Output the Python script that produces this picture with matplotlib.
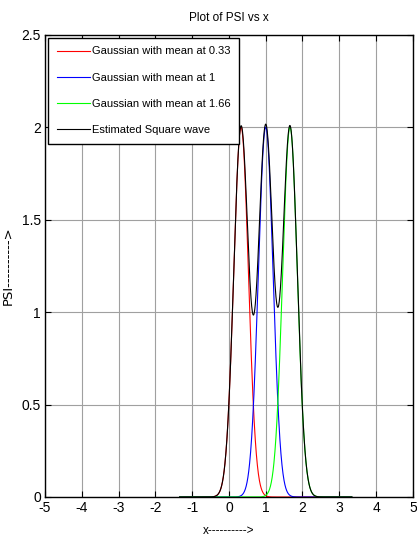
import numpy as np
import matplotlib
matplotlib.use("Agg")
import matplotlib.pyplot as plt
from matplotlib.font_manager import fontManager

plt.rcParams['axes.unicode_minus'] = False
names = {f.name for f in fontManager.ttflist}
narrow = 'Liberation Sans Narrow' if 'Liberation Sans Narrow' in names else 'Liberation Sans'
k = 1.2 if narrow == 'Liberation Sans Narrow' else 1.0

# Data
means = [0.33, 1.0, 1.66]
amplitude = 2.0
sigma = 0.2
x_start, x_end = -1.34, 3.34
labels = ["Gaussian with mean at 0.33", "Gaussian with mean at 1",
          "Gaussian with mean at 1.66", "Estimated Square wave"]
colors = ['#ff0000', '#0000ff', '#00ff00', '#000000']
xticks = [-5, -4, -3, -2, -1, 0, 1, 2, 3, 4, 5]
yticks = [0, 0.5, 1, 1.5, 2, 2.5]
yticklabels = ["0", "0.5", "1", "1.5", "2", "2.5"]

x = np.linspace(x_start, x_end, 1000)
curves = [amplitude * np.exp(-(x - m) ** 2 / (2 * sigma ** 2)) for m in means]
total = np.sum(curves, axis=0)

fig = plt.figure(figsize=(4.17, 5.44), dpi=100)
ax = fig.add_axes([0.108, 0.0864, 0.882, 0.85])

for c, col, lab in zip(curves, colors[:3], labels[:3]):
    ax.plot(x, c, color=col, lw=0.8, label=lab)
ax.plot(x, total, color=colors[3], lw=0.8, label=labels[3])

ax.set_xlim(-5, 5)
ax.set_ylim(0, 2.5)
ax.set_xticks(xticks)
ax.set_yticks(yticks)
ax.set_yticklabels(yticklabels)
ax.grid(True, color='#a0a0a0', lw=0.8, ls='-')
ax.set_axisbelow(True)
ax.tick_params(direction='in', top=True, right=True, length=4, width=0.8,
               labelsize=10 * k, pad=3)
for lab in ax.get_xticklabels() + ax.get_yticklabels():
    lab.set_fontfamily(narrow)
for s in ax.spines.values():
    s.set_linewidth(1.0)

ax.set_title("Plot of PSI vs x", fontfamily=narrow, fontsize=8.5 * k, pad=10)
ax.set_xlabel("x---------->", fontfamily=narrow, fontsize=8.5 * k, labelpad=7)
ax.yaxis.set_label_coords(-0.082, 0.5)
ax.set_ylabel("PSI---------->", fontfamily='DejaVu Sans', fontsize=9.5)

leg = ax.legend(loc='upper left', bbox_to_anchor=(0.008, 0.9935),
                prop={'family': narrow, 'size': 8 * k},
                frameon=True, fancybox=False, edgecolor='black', framealpha=1,
                handlelength=3.0, handletextpad=0.15,
                borderpad=0.8, labelspacing=1.45, borderaxespad=0)
leg.get_frame().set_linewidth(1.0)

fig.savefig("out.png", dpi=100)
